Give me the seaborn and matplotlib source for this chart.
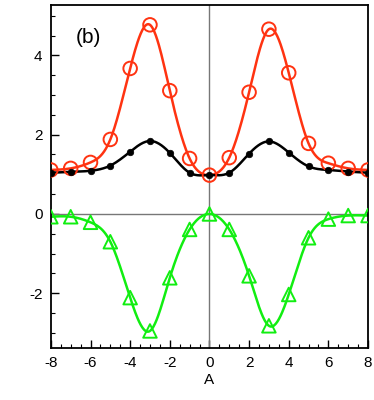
import numpy as np
import pandas as pd
import matplotlib
matplotlib.use("Agg")
import matplotlib.pyplot as plt
import seaborn as sns
from matplotlib.ticker import MultipleLocator

sns.set_style("white")
plt.rcParams['font.family'] = ['Liberation Sans', 'DejaVu Sans']
plt.rcParams['axes.unicode_minus'] = False
plt.rcParams['text.color'] = 'black'
plt.rcParams['axes.labelcolor'] = 'black'
plt.rcParams['xtick.color'] = 'black'
plt.rcParams['ytick.color'] = 'black'

A = [-8, -7, -6, -5, -4, -3, -2, -1, 0, 1, 2, 3, 4, 5, 6, 7, 8]
red = [1.11, 1.15, 1.30, 1.88, 3.67, 4.77, 3.11, 1.40, 0.98, 1.42, 3.07, 4.66, 3.56, 1.78, 1.28, 1.15, 1.11]
black = [1.04, 1.06, 1.09, 1.22, 1.57, 1.84, 1.54, 1.04, 0.98, 1.04, 1.52, 1.83, 1.55, 1.20, 1.11, 1.07, 1.04]
green = [-0.07, -0.07, -0.21, -0.70, -2.11, -2.95, -1.61, -0.39, 0.0, -0.39, -1.56, -2.82, -2.03, -0.60, -0.13, -0.04, -0.04]


def spline(x, y, n=400):
    # natural cubic spline for a smooth rendering of the line
    x = np.asarray(x, float); y = np.asarray(y, float)
    m = len(x); h = np.diff(x)
    M = np.zeros((m, m)); r = np.zeros(m)
    M[0, 0] = M[-1, -1] = 1
    for i in range(1, m - 1):
        M[i, i - 1] = h[i - 1]; M[i, i] = 2 * (h[i - 1] + h[i]); M[i, i + 1] = h[i]
        r[i] = 6 * ((y[i + 1] - y[i]) / h[i] - (y[i] - y[i - 1]) / h[i - 1])
    c = np.linalg.solve(M, r)
    xs = np.linspace(x[0], x[-1], n)
    idx = np.clip(np.searchsorted(x, xs) - 1, 0, m - 2)
    x0, x1 = x[idx], x[idx + 1]; hh = x1 - x0
    a = (x1 - xs) / hh; b = (xs - x0) / hh
    ys = a * y[idx] + b * y[idx + 1] + ((a**3 - a) * c[idx] + (b**3 - b) * c[idx + 1]) * hh**2 / 6
    return xs, ys


fig = plt.figure(figsize=(3.74, 4.0), dpi=100)
ax = fig.add_axes([0.136, 0.13, 0.848, 0.8575])

ax.axhline(0, color='#777777', lw=1.0, zorder=1)
ax.axvline(0, color='#777777', lw=1.0, zorder=1)

RED = '#ff3311'
GREEN = '#11ee11'

for ys_data, col in [(red, RED), (black, 'black'), (green, GREEN)]:
    xs, ys = spline(A, ys_data)
    sns.lineplot(x=xs, y=ys, ax=ax, color=col, lw=1.8, zorder=2)

sns.scatterplot(x=A, y=red, ax=ax, marker='o', s=95, facecolor='none',
                edgecolor=RED, linewidth=1.4, zorder=3)
sns.scatterplot(x=A, y=black, ax=ax, marker='o', s=22, color='black',
                edgecolor='black', linewidth=0.5, zorder=3)
sns.scatterplot(x=A, y=green, ax=ax, marker='^', s=95, facecolor='none',
                edgecolor=GREEN, linewidth=1.4, zorder=3)

ax.set_xlim(-8, 8)
ax.set_ylim(-3.38, 5.27)
ax.xaxis.set_major_locator(MultipleLocator(2))
ax.xaxis.set_minor_locator(MultipleLocator(0.5))
ax.yaxis.set_major_locator(MultipleLocator(2))
ax.yaxis.set_minor_locator(MultipleLocator(0.5))
ax.tick_params(which='both', direction='in', bottom=True, left=True, top=False, right=False,
               labelsize=11, pad=6, colors='black')
ax.tick_params(which='major', length=6, width=1)
ax.tick_params(which='minor', length=3, width=0.8)
for s in ax.spines.values():
    s.set_color('black'); s.set_linewidth(1.3)
ax.set_xlabel('A', fontsize=11, labelpad=2, color='black')
ax.set_ylabel('')
ax.text(-6.1, 4.44, '(b)', fontsize=15, ha='center', va='center', color='black')

fig.savefig('out.png', dpi=100)
